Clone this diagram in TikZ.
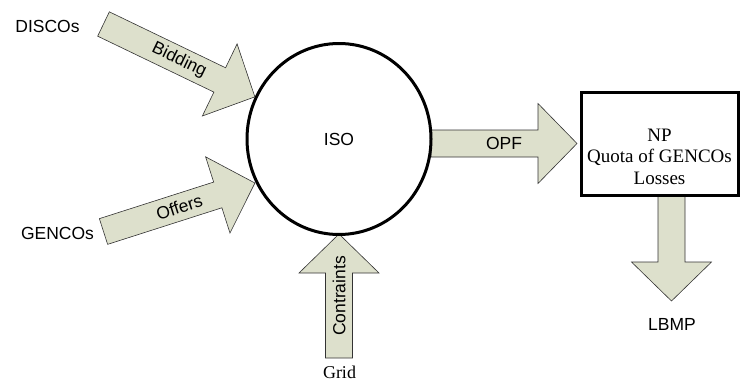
\documentclass[tikz,border=0pt]{standalone}
\usepackage{fontspec}
\setmainfont{Liberation Serif}
\newfontfamily\arialfont{Liberation Sans}
\usetikzlibrary{shapes.geometric}
\definecolor{arrowfill}{RGB}{221,224,204}
\tikzset{
  arrowbody/.style={draw=black!80,line width=0.6pt,fill=arrowfill,line join=miter},
  arrowlabel/.style={font=\arialfont\fontsize{17.5}{20}\selectfont,transform shape,inner sep=0pt},
  sidelabel/.style={font=\arialfont\fontsize{17.5}{20}\selectfont,inner sep=0pt},
  % block arrow: #1 = length, #2 = text on the shaft
  pics/blockarrow/.style n args={2}{code={
    \draw[arrowbody] (0,-13.5) -- ({#1-39},-13.5) -- ({#1-39},-40) -- (#1,0)
      -- ({#1-39},40) -- ({#1-39},13.5) -- (0,13.5) -- cycle;
    \node[arrowlabel] (-label) at ({#1/2},0) {#2};
  }}
}
\begin{document}
\begin{tikzpicture}[x=1pt,y=-1pt]
\useasboundingbox (0,0) rectangle (741,383);
% inputs
\pic[rotate=-25.7] (bid) at (103.5,24) {blockarrow={168}{Bidding}};
\pic[rotate=17.75] (off) at (103.5,231.5) {blockarrow={159}{Offers}};
\pic[rotate=90] (con) at (339,358) {blockarrow={124}{Contraints}};
% outputs
\pic (opf) at (431,143.5) {blockarrow={146}{OPF}};
\pic[rotate=-90] (lbmparrow) at (671.5,196) {blockarrow={105}{}};
% market operator
\node[ellipse,draw,line width=3pt,minimum width=184pt,minimum height=191pt,inner sep=0pt,
  font=\arialfont\fontsize{17.5}{20}\selectfont] (iso) at (339,139) {ISO};
\node[rectangle,draw,line width=3pt,minimum width=157pt,minimum height=103pt,inner sep=0pt] (np) at (659.5,143.7) {};
\node[align=center,font=\fontsize{19}{21.5}\selectfont,inner sep=0pt] (nptext) at ([yshift=-13pt]np.center) {NP\\Quota of GENCOs\\Losses};
% participants
\node[sidelabel] (discos) at (47.5,26) {DISCOs};
\node[sidelabel] (gencos) at (57.5,233.5) {GENCOs};
\node[sidelabel] (lbmp) at (672,324) {LBMP};
\node[font=\fontsize{18}{20}\selectfont,inner sep=0pt] (grid) at (339.5,372) {Grid};
\end{tikzpicture}
\end{document}
